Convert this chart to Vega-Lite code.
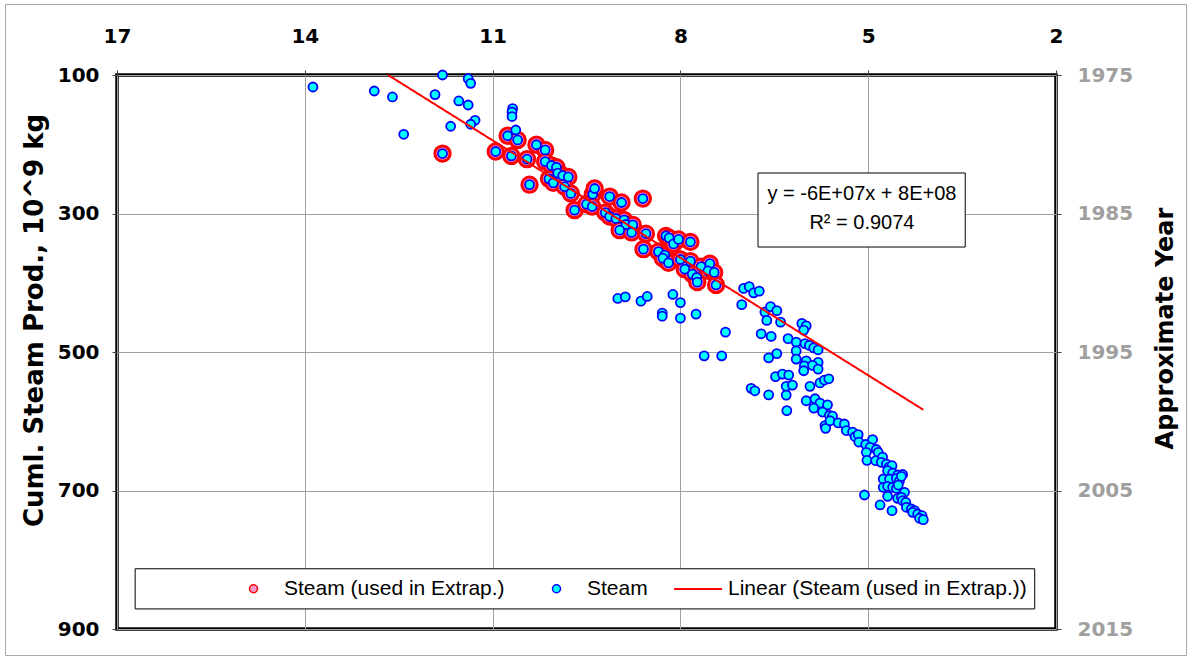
{
  "$schema": "https://vega.github.io/schema/vega-lite/v6.json",
  "width": 939,
  "height": 554,
  "autosize": {"type": "none"},
  "padding": {"left": 117, "top": 75, "right": 136, "bottom": 31},
  "background": "white",
  "datasets": {
    "steam": [
      {"x": 11.80, "cum": 213.4, "extrap": true},
      {"x": 10.95, "cum": 210.5, "extrap": true},
      {"x": 10.76, "cum": 187.7, "extrap": true},
      {"x": 10.60, "cum": 193.8, "extrap": true},
      {"x": 10.70, "cum": 216.9, "extrap": true},
      {"x": 10.45, "cum": 221.6, "extrap": true},
      {"x": 10.41, "cum": 258.4, "extrap": true},
      {"x": 10.30, "cum": 200.7, "extrap": true},
      {"x": 10.16, "cum": 208.2, "extrap": true},
      {"x": 10.16, "cum": 225.0, "extrap": true},
      {"x": 10.06, "cum": 230.7, "extrap": true},
      {"x": 9.98, "cum": 233.2, "extrap": true},
      {"x": 9.96, "cum": 241.6, "extrap": true},
      {"x": 10.10, "cum": 249.9, "extrap": true},
      {"x": 10.03, "cum": 255.7, "extrap": true},
      {"x": 9.88, "cum": 245.2, "extrap": true},
      {"x": 9.79, "cum": 247.2, "extrap": true},
      {"x": 9.85, "cum": 261.3, "extrap": true},
      {"x": 9.75, "cum": 271.0, "extrap": true},
      {"x": 9.69, "cum": 295.2, "extrap": true},
      {"x": 9.40, "cum": 272.2, "extrap": true},
      {"x": 9.37, "cum": 263.9, "extrap": true},
      {"x": 9.50, "cum": 286.6, "extrap": true},
      {"x": 9.41, "cum": 289.9, "extrap": true},
      {"x": 9.13, "cum": 275.5, "extrap": true},
      {"x": 8.94, "cum": 284.1, "extrap": true},
      {"x": 8.60, "cum": 278.4, "extrap": true},
      {"x": 9.20, "cum": 298.6, "extrap": true},
      {"x": 9.13, "cum": 304.3, "extrap": true},
      {"x": 9.03, "cum": 307.2, "extrap": true},
      {"x": 8.90, "cum": 309.2, "extrap": true},
      {"x": 8.87, "cum": 315.9, "extrap": true},
      {"x": 8.76, "cum": 316.5, "extrap": true},
      {"x": 8.97, "cum": 324.1, "extrap": true},
      {"x": 8.78, "cum": 327.4, "extrap": true},
      {"x": 8.55, "cum": 329.2, "extrap": true},
      {"x": 8.59, "cum": 351.5, "extrap": true},
      {"x": 8.35, "cum": 355.1, "extrap": true},
      {"x": 8.25, "cum": 360.2, "extrap": true},
      {"x": 8.28, "cum": 364.5, "extrap": true},
      {"x": 8.23, "cum": 332.3, "extrap": true},
      {"x": 8.18, "cum": 335.2, "extrap": true},
      {"x": 8.11, "cum": 343.9, "extrap": true},
      {"x": 8.03, "cum": 337.5, "extrap": true},
      {"x": 7.84, "cum": 341.0, "extrap": true},
      {"x": 8.19, "cum": 371.3, "extrap": true},
      {"x": 8.00, "cum": 366.4, "extrap": true},
      {"x": 7.84, "cum": 368.8, "extrap": true},
      {"x": 7.93, "cum": 380.4, "extrap": true},
      {"x": 7.81, "cum": 387.6, "extrap": true},
      {"x": 7.74, "cum": 392.4, "extrap": true},
      {"x": 7.73, "cum": 399.1, "extrap": true},
      {"x": 7.67, "cum": 376.8, "extrap": true},
      {"x": 7.53, "cum": 372.4, "extrap": true},
      {"x": 7.56, "cum": 382.8, "extrap": true},
      {"x": 7.46, "cum": 385.1, "extrap": true},
      {"x": 7.43, "cum": 403.2, "extrap": true},
      {"x": 13.87, "cum": 117.3, "extrap": false},
      {"x": 12.89, "cum": 123.1, "extrap": false},
      {"x": 12.60, "cum": 131.7, "extrap": false},
      {"x": 12.42, "cum": 185.6, "extrap": false},
      {"x": 11.92, "cum": 128.3, "extrap": false},
      {"x": 11.80, "cum": 100.0, "extrap": false},
      {"x": 11.67, "cum": 174.0, "extrap": false},
      {"x": 11.54, "cum": 137.5, "extrap": false},
      {"x": 11.39, "cum": 143.3, "extrap": false},
      {"x": 11.39, "cum": 105.2, "extrap": false},
      {"x": 11.35, "cum": 112.0, "extrap": false},
      {"x": 11.28, "cum": 165.4, "extrap": false},
      {"x": 11.35, "cum": 171.1, "extrap": false},
      {"x": 10.68, "cum": 148.5, "extrap": false},
      {"x": 10.69, "cum": 153.4, "extrap": false},
      {"x": 10.69, "cum": 160.0, "extrap": false},
      {"x": 10.63, "cum": 179.4, "extrap": false},
      {"x": 9.00, "cum": 422.7, "extrap": false},
      {"x": 8.88, "cum": 420.3, "extrap": false},
      {"x": 8.63, "cum": 426.6, "extrap": false},
      {"x": 8.53, "cum": 419.8, "extrap": false},
      {"x": 8.29, "cum": 443.9, "extrap": false},
      {"x": 8.29, "cum": 448.2, "extrap": false},
      {"x": 8.12, "cum": 416.9, "extrap": false},
      {"x": 8.00, "cum": 428.7, "extrap": false},
      {"x": 8.00, "cum": 451.1, "extrap": false},
      {"x": 7.75, "cum": 445.3, "extrap": false},
      {"x": 7.28, "cum": 471.3, "extrap": false},
      {"x": 7.62, "cum": 505.5, "extrap": false},
      {"x": 7.34, "cum": 505.5, "extrap": false},
      {"x": 7.02, "cum": 431.6, "extrap": false},
      {"x": 6.99, "cum": 408.2, "extrap": false},
      {"x": 6.90, "cum": 405.6, "extrap": false},
      {"x": 6.83, "cum": 414.6, "extrap": false},
      {"x": 6.74, "cum": 412.1, "extrap": false},
      {"x": 6.65, "cum": 442.4, "extrap": false},
      {"x": 6.56, "cum": 434.5, "extrap": false},
      {"x": 6.46, "cum": 440.3, "extrap": false},
      {"x": 6.62, "cum": 454.4, "extrap": false},
      {"x": 6.40, "cum": 456.9, "extrap": false},
      {"x": 6.71, "cum": 473.7, "extrap": false},
      {"x": 6.55, "cum": 477.5, "extrap": false},
      {"x": 6.28, "cum": 480.7, "extrap": false},
      {"x": 6.15, "cum": 485.7, "extrap": false},
      {"x": 6.06, "cum": 458.7, "extrap": false},
      {"x": 5.99, "cum": 462.2, "extrap": false},
      {"x": 6.03, "cum": 468.4, "extrap": false},
      {"x": 6.01, "cum": 487.9, "extrap": false},
      {"x": 5.94, "cum": 490.5, "extrap": false},
      {"x": 5.87, "cum": 494.1, "extrap": false},
      {"x": 5.80, "cum": 496.8, "extrap": false},
      {"x": 6.15, "cum": 498.3, "extrap": false},
      {"x": 6.46, "cum": 502.3, "extrap": false},
      {"x": 6.59, "cum": 508.4, "extrap": false},
      {"x": 6.15, "cum": 510.2, "extrap": false},
      {"x": 5.99, "cum": 512.7, "extrap": false},
      {"x": 5.80, "cum": 515.0, "extrap": false},
      {"x": 6.02, "cum": 519.9, "extrap": false},
      {"x": 6.03, "cum": 527.1, "extrap": false},
      {"x": 5.89, "cum": 519.3, "extrap": false},
      {"x": 5.80, "cum": 524.7, "extrap": false},
      {"x": 6.48, "cum": 535.5, "extrap": false},
      {"x": 6.37, "cum": 531.9, "extrap": false},
      {"x": 6.27, "cum": 533.3, "extrap": false},
      {"x": 6.31, "cum": 549.6, "extrap": false},
      {"x": 6.21, "cum": 547.8, "extrap": false},
      {"x": 6.31, "cum": 562.2, "extrap": false},
      {"x": 5.93, "cum": 549.6, "extrap": false},
      {"x": 5.77, "cum": 544.6, "extrap": false},
      {"x": 5.70, "cum": 540.5, "extrap": false},
      {"x": 5.63, "cum": 538.7, "extrap": false},
      {"x": 6.87, "cum": 552.5, "extrap": false},
      {"x": 6.81, "cum": 556.0, "extrap": false},
      {"x": 6.59, "cum": 561.9, "extrap": false},
      {"x": 5.99, "cum": 570.4, "extrap": false},
      {"x": 5.85, "cum": 567.5, "extrap": false},
      {"x": 5.77, "cum": 573.7, "extrap": false},
      {"x": 5.65, "cum": 576.3, "extrap": false},
      {"x": 5.87, "cum": 581.0, "extrap": false},
      {"x": 5.73, "cum": 586.7, "extrap": false},
      {"x": 5.62, "cum": 591.5, "extrap": false},
      {"x": 5.57, "cum": 592.5, "extrap": false},
      {"x": 6.30, "cum": 584.6, "extrap": false},
      {"x": 5.69, "cum": 606.2, "extrap": false},
      {"x": 5.68, "cum": 610.2, "extrap": false},
      {"x": 5.61, "cum": 599.3, "extrap": false},
      {"x": 5.48, "cum": 602.3, "extrap": false},
      {"x": 5.38, "cum": 604.0, "extrap": false},
      {"x": 5.35, "cum": 613.4, "extrap": false},
      {"x": 5.25, "cum": 615.6, "extrap": false},
      {"x": 5.21, "cum": 622.1, "extrap": false},
      {"x": 5.16, "cum": 619.2, "extrap": false},
      {"x": 5.15, "cum": 630.0, "extrap": false},
      {"x": 5.04, "cum": 633.6, "extrap": false},
      {"x": 4.93, "cum": 626.4, "extrap": false},
      {"x": 4.97, "cum": 637.7, "extrap": false},
      {"x": 4.87, "cum": 640.8, "extrap": false},
      {"x": 4.84, "cum": 644.9, "extrap": false},
      {"x": 5.03, "cum": 644.9, "extrap": false},
      {"x": 5.02, "cum": 656.4, "extrap": false},
      {"x": 4.88, "cum": 657.0, "extrap": false},
      {"x": 4.77, "cum": 651.7, "extrap": false},
      {"x": 4.79, "cum": 659.3, "extrap": false},
      {"x": 4.71, "cum": 661.8, "extrap": false},
      {"x": 4.67, "cum": 666.5, "extrap": false},
      {"x": 4.62, "cum": 664.2, "extrap": false},
      {"x": 4.69, "cum": 671.4, "extrap": false},
      {"x": 4.61, "cum": 674.7, "extrap": false},
      {"x": 4.53, "cum": 677.6, "extrap": false},
      {"x": 4.45, "cum": 676.9, "extrap": false},
      {"x": 4.76, "cum": 683.4, "extrap": false},
      {"x": 4.66, "cum": 683.4, "extrap": false},
      {"x": 4.55, "cum": 682.4, "extrap": false},
      {"x": 4.50, "cum": 685.9, "extrap": false},
      {"x": 4.47, "cum": 679.5, "extrap": false},
      {"x": 4.76, "cum": 695.4, "extrap": false},
      {"x": 4.69, "cum": 694.0, "extrap": false},
      {"x": 4.61, "cum": 695.4, "extrap": false},
      {"x": 4.55, "cum": 696.8, "extrap": false},
      {"x": 4.52, "cum": 692.1, "extrap": false},
      {"x": 4.42, "cum": 702.6, "extrap": false},
      {"x": 5.06, "cum": 706.5, "extrap": false},
      {"x": 4.69, "cum": 708.4, "extrap": false},
      {"x": 4.53, "cum": 711.3, "extrap": false},
      {"x": 4.47, "cum": 709.8, "extrap": false},
      {"x": 4.45, "cum": 714.7, "extrap": false},
      {"x": 4.40, "cum": 717.0, "extrap": false},
      {"x": 4.81, "cum": 720.9, "extrap": false},
      {"x": 4.62, "cum": 729.1, "extrap": false},
      {"x": 4.39, "cum": 724.2, "extrap": false},
      {"x": 4.31, "cum": 726.7, "extrap": false},
      {"x": 4.26, "cum": 729.1, "extrap": false},
      {"x": 4.29, "cum": 731.5, "extrap": false},
      {"x": 4.21, "cum": 733.9, "extrap": false},
      {"x": 4.14, "cum": 736.4, "extrap": false},
      {"x": 4.18, "cum": 740.1, "extrap": false},
      {"x": 4.12, "cum": 742.1, "extrap": false}
    ],
    "trend": [
      {"x": 12.67, "cum": 100.0},
      {"x": 4.12, "cum": 583.4}
    ],
    "years": [
      {"year": 1975},
      {"year": 2015}
    ]
  },
  "layer": [
    {
      "layer": [
        {
          "data": {"name": "steam"},
          "transform": [{"filter": "datum.extrap"}],
          "mark": {"type": "point", "shape": "circle", "filled": true, "opacity": 1, "size": 234, "strokeWidth": 3},
          "encoding": {
            "x": {"field": "x", "type": "quantitative",
              "scale": {"domain": [2, 17], "reverse": true, "nice": false, "zero": false},
              "axis": {"orient": "top", "values": [2, 5, 8, 11, 14, 17], "format": "d", "title": null, "grid": true,
                "labelFlush": false, "labelOverlap": false, "labelPadding": 24, "tickSize": 5}},
            "y": {"field": "cum", "type": "quantitative",
              "scale": {"domain": [100, 900], "reverse": true, "nice": false, "zero": false},
              "axis": {"orient": "left", "values": [100, 300, 500, 700, 900], "format": "d",
                "title": "Cuml. Steam Prod., 10^9 kg", "grid": true, "labelFlush": false, "labelOverlap": false,
                "labelPadding": 13, "tickSize": 5, "titleFontSize": 26, "titleAngle": 270,
                "titleX": -83, "titleY": 245, "titleAlign": "center", "titleBaseline": "middle"}},
            "fill": {"datum": "Steam (used in Extrap.)", "type": "nominal",
              "scale": {"domain": ["Steam (used in Extrap.)", "Steam"], "range": ["#ff99cc", "#00ffff"]},
              "legend": {"orient": "none", "legendX": 126, "legendY": 503, "direction": "horizontal", "title": null,
                "symbolType": "circle", "symbolSize": 64, "symbolStrokeWidth": 1.5,
                "labelFont": "Liberation Sans", "labelFontSize": 21, "labelColor": "black",
                "labelOffset": 20, "columnPadding": 41, "padding": 0, "labelLimit": 600}},
            "stroke": {"datum": "Steam (used in Extrap.)", "type": "nominal",
              "scale": {"domain": ["Steam (used in Extrap.)", "Steam"], "range": ["#ff0000", "#0000ff"]},
              "legend": {"orient": "none", "legendX": 126, "legendY": 503, "direction": "horizontal", "title": null,
                "symbolType": "circle", "symbolSize": 64, "symbolStrokeWidth": 1.5,
                "labelFont": "Liberation Sans", "labelFontSize": 21, "labelColor": "black",
                "labelOffset": 20, "columnPadding": 41, "padding": 0, "labelLimit": 600}}
          }
        },
        {
          "data": {"name": "steam"},
          "mark": {"type": "point", "shape": "circle", "filled": true, "opacity": 1, "size": 81, "strokeWidth": 1.8},
          "encoding": {
            "x": {"field": "x", "type": "quantitative"},
            "y": {"field": "cum", "type": "quantitative"},
            "fill": {"datum": "Steam", "type": "nominal"},
            "stroke": {"datum": "Steam", "type": "nominal"}
          }
        },
        {
          "data": {"name": "trend"},
          "mark": {"type": "line", "color": "#ff0000", "strokeWidth": 2},
          "encoding": {
            "x": {"field": "x", "type": "quantitative"},
            "y": {"field": "cum", "type": "quantitative"},
            "strokeDash": {"datum": "Linear (Steam (used in Extrap.))", "type": "nominal",
              "scale": {"domain": ["Linear (Steam (used in Extrap.))"], "range": [[1, 0]]},
              "legend": {"orient": "none", "legendX": 556, "legendY": 489, "direction": "horizontal", "title": null,
                "symbolType": "stroke", "symbolSize": 2304, "symbolStrokeColor": "#ff0000", "symbolStrokeWidth": 2,
                "labelFont": "Liberation Sans", "labelFontSize": 21, "labelColor": "black",
                "labelOffset": 5, "padding": 0, "labelLimit": 600}}
          }
        },
        {
          "data": {"values": [{}]},
          "mark": {"type": "rect", "fill": "white", "stroke": "black", "strokeWidth": 1},
          "encoding": {
            "x": {"datum": 6.76, "type": "quantitative"},
            "x2": {"datum": 3.45},
            "y": {"datum": 241.5, "type": "quantitative"},
            "y2": {"datum": 348.4}
          }
        },
        {
          "data": {"values": [{}]},
          "mark": {"type": "text", "text": "y = -6E+07x + 8E+08", "font": "Liberation Sans", "fontSize": 20, "align": "center", "baseline": "middle", "color": "black"},
          "encoding": {
            "x": {"datum": 5.10, "type": "quantitative"},
            "y": {"datum": 271.8, "type": "quantitative"}
          }
        },
        {
          "data": {"values": [{}]},
          "mark": {"type": "text", "text": "R² = 0.9074", "font": "Liberation Sans", "fontSize": 20, "align": "center", "baseline": "middle", "color": "black"},
          "encoding": {
            "x": {"datum": 5.10, "type": "quantitative"},
            "y": {"datum": 313.7, "type": "quantitative"}
          }
        },
        {
          "data": {"values": [{}]},
          "mark": {"type": "rect", "fill": "white", "stroke": "black", "strokeWidth": 1},
          "encoding": {
            "x": {"datum": 16.71, "type": "quantitative"},
            "x2": {"datum": 2.34},
            "y": {"datum": 813, "type": "quantitative"},
            "y2": {"datum": 871}
          }
        },
        {
          "data": {"values": [{}]},
          "mark": {"type": "rect", "filled": false, "color": "#a6a6a6", "strokeWidth": 1},
          "encoding": {
            "x": {"datum": 18.78, "type": "quantitative"},
            "x2": {"datum": -0.085},
            "y": {"datum": -1.8, "type": "quantitative"},
            "y2": {"datum": 938.3}
          }
        }
      ]
    },
    {
      "data": {"name": "years"},
      "mark": {"type": "point", "opacity": 0},
      "encoding": {
        "y": {"field": "year", "type": "quantitative",
          "scale": {"domain": [1975, 2015], "reverse": true, "nice": false, "zero": false},
          "axis": {"orient": "right", "values": [1975, 1985, 1995, 2005, 2015], "format": "d",
            "title": "Approximate Year", "grid": false, "labelColor": "#9f9f9f", "labelPadding": 16, "tickSize": 5,
            "labelFlush": false, "labelOverlap": false,
            "titleFontSize": 24, "titleAngle": 270, "titleX": 109, "titleY": 253,
            "titleAlign": "center", "titleBaseline": "middle"}}
      }
    }
  ],
  "resolve": {"scale": {"y": "independent"}, "axis": {"y": "independent"}},
  "config": {
    "font": "DejaVu Sans",
    "view": {"stroke": "black", "strokeWidth": 3.5},
    "axis": {
      "labelFont": "DejaVu Sans", "labelFontWeight": "bold", "labelFontSize": 20, "labelColor": "black",
      "titleFont": "DejaVu Sans", "titleFontWeight": "bold", "titleColor": "black",
      "domain": false, "tickColor": "#404040", "tickWidth": 1,
      "gridColor": "#a0a0a0", "gridWidth": 1, "gridOpacity": 1
    }
  }
}
